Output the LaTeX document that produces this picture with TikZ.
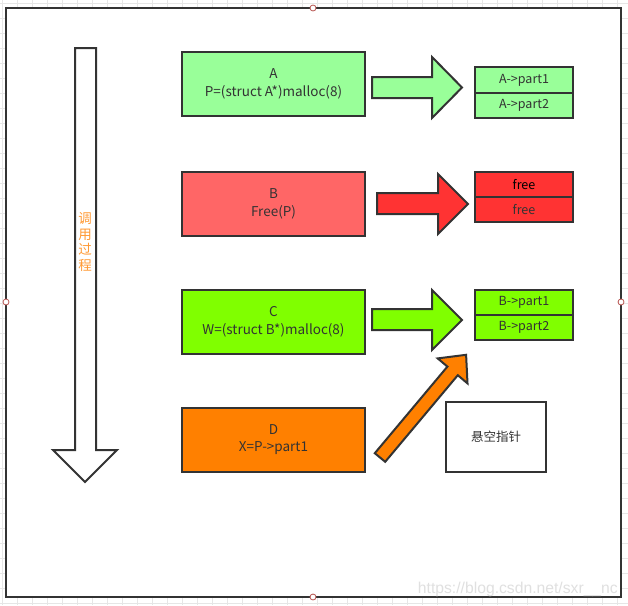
\documentclass[tikz,border=0pt]{standalone}
\usepackage{fontspec}
\setmainfont{Noto Sans CJK SC}
\newfontfamily\wmfont{Liberation Sans}
\definecolor{lineC}{HTML}{333333}
\definecolor{gridC}{HTML}{E6E6E6}
\definecolor{cA}{HTML}{99FF99}
\definecolor{cB}{HTML}{FF6666}
\definecolor{cFree}{HTML}{FF3333}
\definecolor{cC}{HTML}{80FF00}
\definecolor{cD}{HTML}{FF8000}
\definecolor{cOrange}{HTML}{FF9933}
\definecolor{cHandle}{HTML}{B85450}
\definecolor{cWm}{HTML}{E0E0E0}
\begin{document}
\begin{tikzpicture}[x=1pt,y=-1pt,
  box/.style={draw=lineC, line width=2pt, minimum width=183pt, minimum height=64pt,
    inner sep=0pt, align=center, text=lineC, font=\fontsize{13.5}{17.5}\selectfont},
  part/.style={draw=lineC, line width=2pt, minimum width=98pt, inner sep=0pt,
    text=lineC, font=\fontsize{12.5}{14}\selectfont},
  blockarrow/.style={draw=lineC, line width=2pt, line join=miter},
  handle/.style={draw=cHandle, fill=white, line width=0.8pt}]
\useasboundingbox (0,0) rectangle (628,605);
\fill[white] (0,0) rectangle (628,605);
% grid
\foreach \x in {2.3,17.3,...,628} \draw[gridC, line width=0.8pt] (\x,0) -- (\x,605);
\foreach \y in {3,18,...,605} \draw[gridC, line width=0.8pt] (0,\y) -- (628,\y);
% frame
\draw[draw=lineC, fill=white, line width=2pt] (6,8) rectangle (621,597);
% vertical process arrow
\draw[blockarrow, fill=white] (75,48) -- (96,48) -- (96,450) -- (117,450) -- (85,482)
  -- (53,450) -- (75,450) -- cycle;
\node[text=cOrange, align=center, inner sep=0pt, font=\fontsize{13.5}{15.7}\selectfont]
  (proc) at (85,242) {调\\用\\过\\程};
% boxes
\node[box, fill=cA] (A) at (273.5,84) {A\\P=(struct A*)malloc(8)};
\node[box, fill=cB] (B) at (273.5,204) {B\\Free(P)};
\node[box, fill=cC] (C) at (273.5,322) {C\\W=(struct B*)malloc(8)};
\node[box, fill=cD] (D) at (273.5,439.5) {D\\X=P->part1};
% parts
\node[part, fill=cA, minimum height=26pt] (a1) at (524,80) {A->part1};
\node[part, fill=cA, minimum height=25pt] (a2) at (524,105.5) {A->part2};
\node[part, fill=cFree, minimum height=25pt, text=black] (b1) at (524,184.5) {free};
\node[part, fill=cFree, minimum height=25pt] (b2) at (524,209.5) {free};
\node[part, fill=cC, minimum height=25pt] (c1) at (524,302.5) {B->part1};
\node[part, fill=cC, minimum height=25pt] (c2) at (524,327.5) {B->part2};
% dangling pointer box
\node[draw=lineC, line width=2pt, fill=white, minimum width=100pt, minimum height=70pt,
  inner sep=0pt, text=lineC, font=\fontsize{12.5}{14}\selectfont] (dang) at (496,437) {悬空指针};
% block arrows
\draw[blockarrow, fill=cA] (372,77) -- (432,77) -- (432,57) -- (462,87.5) -- (432,118)
  -- (432,98) -- (372,98) -- cycle;
\draw[blockarrow, fill=cFree] (377,193) -- (438,193) -- (438,174) -- (468,204) -- (438,234)
  -- (438,214) -- (377,214) -- cycle;
\draw[blockarrow, fill=cC] (372,309) -- (432,309) -- (432,290) -- (462,320) -- (432,350)
  -- (432,330) -- (372,330) -- cycle;
\draw[blockarrow, fill=cD] (374.8,453.2) -- (447.4,366.6) -- (437.7,358.4) -- (466.1,354.8)
  -- (467.5,383.4) -- (457.8,375.2) -- (385.2,461.8) -- cycle;
% selection handles
\foreach \p in {(313,8),(6,302),(621,302),(313,597)} \draw[handle] \p circle (3pt);
% watermark
\node[text=cWm, anchor=base east, inner sep=0pt, font=\wmfont\fontsize{15.7}{18}\selectfont]
  (wm) at (618,593) {https://blog.csdn.net/sxr\_\_nc};
\end{tikzpicture}
\end{document}
